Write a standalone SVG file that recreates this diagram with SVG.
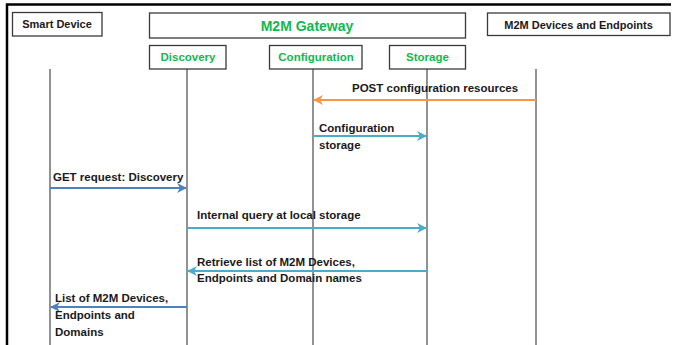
<svg xmlns="http://www.w3.org/2000/svg" width="676" height="345" viewBox="0 0 676 345">
  <style>
    .box { fill: #ffffff; stroke: #3a3a3a; stroke-width: 1.3; }
    .life { stroke: #3a3a3a; stroke-width: 1.1; fill: none; }
    .lbl { font-family: "Liberation Sans", Arial, sans-serif; font-weight: bold; font-size: 11.5px; fill: #1a1a1a; }
    .hdr { font-family: "Liberation Sans", Arial, sans-serif; font-weight: bold; font-size: 11px; fill: #1a1a1a; }
    .grn { font-family: "Liberation Sans", Arial, sans-serif; font-weight: bold; font-size: 11.5px; fill: #12b84e; }
    .title { font-size: 14px; }
    .msg { stroke-width: 2; fill: none; }
    .orange { stroke: #f79646; }
    .teal { stroke: #4bacc6; }
    .blue { stroke: #4f81bd; }
  </style>
  <defs>
    <marker id="ah-orange" viewBox="0 0 10 10" refX="9" refY="5" markerWidth="5" markerHeight="5" orient="auto-start-reverse" markerUnits="strokeWidth">
      <path d="M0,0 L10,5 L0,10 L3,5 Z" fill="#f79646"/>
    </marker>
    <marker id="ah-teal" viewBox="0 0 10 10" refX="9" refY="5" markerWidth="5" markerHeight="5" orient="auto-start-reverse" markerUnits="strokeWidth">
      <path d="M0,0 L10,5 L0,10 L3,5 Z" fill="#4bacc6"/>
    </marker>
    <marker id="ah-blue" viewBox="0 0 10 10" refX="9" refY="5" markerWidth="5" markerHeight="5" orient="auto-start-reverse" markerUnits="strokeWidth">
      <path d="M0,0 L10,5 L0,10 L3,5 Z" fill="#4f81bd"/>
    </marker>
  </defs>

  <rect width="676" height="345" fill="#ffffff"/>
  <!-- page frame: top and left edges -->
  <path d="M7,345 L7,4.5 L671,4.5" fill="none" stroke="#000000" stroke-width="2.5"/>

  <!-- lifelines -->
  <g id="lifelines">
    <line class="life" x1="50" y1="69" x2="50" y2="345"/>
    <line class="life" x1="187" y1="69" x2="187" y2="345"/>
    <line class="life" x1="313" y1="69" x2="313" y2="345"/>
    <line class="life" x1="427" y1="69" x2="427" y2="345"/>
    <line class="life" x1="536" y1="69" x2="536" y2="345"/>
  </g>

  <g id="smart-device">
    <rect class="box" x="12.5" y="12.5" width="89.5" height="23.5"/>
    <text class="hdr" x="57" y="28" text-anchor="middle">Smart Device</text>
  </g>

  <g id="m2m-gateway">
    <rect class="box" x="149.5" y="13" width="316" height="25"/>
    <text class="grn title" x="307" y="30.5" text-anchor="middle">M2M Gateway</text>
  </g>

  <g id="m2m-devices">
    <rect class="box" x="487.5" y="13" width="182.5" height="22.5"/>
    <text class="hdr" x="578.5" y="28.5" text-anchor="middle">M2M Devices and Endpoints</text>
  </g>

  <g id="discovery">
    <rect class="box" x="149.5" y="45.5" width="76.5" height="23.5"/>
    <text class="grn" x="188" y="61" text-anchor="middle">Discovery</text>
  </g>

  <g id="configuration">
    <rect class="box" x="269.5" y="45.5" width="92.5" height="23.5"/>
    <text class="grn" x="316" y="61" text-anchor="middle">Configuration</text>
  </g>

  <g id="storage">
    <rect class="box" x="389.5" y="45.5" width="76" height="23.5"/>
    <text class="grn" x="427.5" y="61" text-anchor="middle">Storage</text>
  </g>

  <!-- messages -->
  <g id="connectors">
    <line class="msg orange" x1="536" y1="100" x2="314" y2="100" marker-end="url(#ah-orange)"/>
    <line class="msg teal" x1="313" y1="136" x2="426" y2="136" marker-end="url(#ah-teal)"/>
    <line class="msg blue" x1="50" y1="188" x2="186" y2="188" marker-end="url(#ah-blue)"/>
    <line class="msg teal" x1="187" y1="228" x2="426" y2="228" marker-end="url(#ah-teal)"/>
    <line class="msg teal" x1="427" y1="271" x2="188" y2="271" marker-end="url(#ah-teal)"/>
    <line class="msg blue" x1="187" y1="307" x2="51" y2="307" marker-end="url(#ah-blue)"/>
  </g>

  <g id="message-labels">
    <text class="lbl" x="352" y="92">POST configuration resources</text>
    <text class="lbl" x="319" y="132">Configuration</text>
    <text class="lbl" x="319" y="149">storage</text>
    <text class="lbl" x="53" y="181">GET request: Discovery</text>
    <text class="lbl" x="197" y="219">Internal query at local storage</text>
    <text class="lbl" x="197" y="266">Retrieve list of M2M Devices,</text>
    <text class="lbl" x="197" y="282">Endpoints and Domain names</text>
    <text class="lbl" x="55" y="302">List of M2M Devices,</text>
    <text class="lbl" x="55" y="319">Endpoints and</text>
    <text class="lbl" x="55" y="336">Domains</text>
  </g>
</svg>
